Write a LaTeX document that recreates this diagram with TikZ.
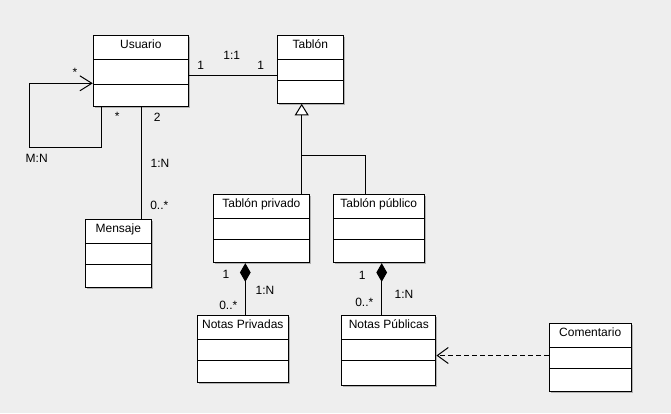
\documentclass[tikz,border=0pt]{standalone}
\usepackage{fontspec}
\setmainfont{Liberation Sans}
\usetikzlibrary{arrows.meta,shadows}
\definecolor{canvas}{RGB}{238,238,238}
\begin{document}
\begin{tikzpicture}[x=1pt, y=-1pt,
    cls/.style={draw, fill=white, line width=1pt, inner sep=0pt,
        drop shadow={shadow xshift=1.5pt, shadow yshift=-1.5pt, fill=black!30, opacity=1},
        path picture={
            \draw[line width=1pt] ([yshift=-24pt]path picture bounding box.north west) -- ([yshift=-24pt]path picture bounding box.north east);
            \draw[line width=1pt] ([yshift=-#1pt]path picture bounding box.north west) -- ([yshift=-#1pt]path picture bounding box.north east);}},
    cls/.default=45,
    title/.style={font=\fontsize{12}{14}\selectfont, anchor=base, inner sep=0pt},
    mult/.style={font=\fontsize{12}{14}\selectfont, anchor=base, inner sep=0pt},
    assoc/.style={line width=1pt},
    navigable/.style={line width=1pt, -{Straight Barb[length=12pt, width=15pt]}},
    generalize/.style={line width=1pt, -{Triangle[length=11.6pt, width=14pt, fill=white]}},
    compose/.style={line width=1pt, {Diamond[length=18.7pt, width=10.7pt]}-},
    depend/.style={line width=1pt, dash pattern=on 5pt off 3pt, -{Straight Barb[length=11pt, width=16pt]}}
]
    \fill[canvas] (0,0) rectangle (671,413);
    \useasboundingbox (0,0) rectangle (671,413);

    \node[cls=49, minimum width=95pt, minimum height=71pt] (usuario) at (140.8,70.5) {};
    \node[title] (usuario-t) at ([yshift=-14pt]usuario.north) {Usuario};
    \node[cls, minimum width=66pt, minimum height=67.8pt] (tablon) at (310.3,69.4) {};
    \node[title] (tablon-t) at ([yshift=-13.5pt]tablon.north) {Tablón};
    \node[cls, minimum width=66pt, minimum height=68pt] (mensaje) at (118.3,253.3) {};
    \node[title] (mensaje-t) at ([yshift=-13.5pt]mensaje.north) {Mensaje};
    \node[cls, minimum width=96.2pt, minimum height=67.7pt] (privado) at (261.4,228.8) {};
    \node[title] (privado-t) at ([yshift=-13.5pt]privado.north) {Tablón privado};
    \node[cls, minimum width=91pt, minimum height=67.7pt] (publico) at (378.8,228.8) {};
    \node[title] (publico-t) at ([yshift=-13.5pt]publico.north) {Tablón público};
    \node[cls, minimum width=91pt, minimum height=67pt] (notaspriv) at (242.8,348.8) {};
    \node[title] (notaspriv-t) at ([yshift=-13.5pt]notaspriv.north) {Notas Privadas};
    \node[cls, minimum width=94.3pt, minimum height=70.3pt] (notaspub) at (388.8,350.8) {};
    \node[title] (notaspub-t) at ([yshift=-13.5pt]notaspub.north) {Notas Públicas};
    \node[cls, minimum width=81.7pt, minimum height=67.7pt] (comentario) at (590.2,357.2) {};
    \node[title] (comentario-t) at ([yshift=-14pt]comentario.north) {Comentario};

    \coordinate (assocY) at (0,75.3);
    \coordinate (loopX) at (101.7,0);
    \coordinate (loopSW) at (29.3,147.3);
    \coordinate (loopNW) at (29.3,83.3);
    \coordinate (msgX) at (141.7,0);
    \coordinate (genJ) at (301.7,155.7);
    \coordinate (pubX) at (365.5,0);
    \coordinate (privD) at (245.3,0);
    \coordinate (pubD) at (381.7,0);
    \coordinate (depY) at (0,355.5);

    \draw[assoc] (usuario.east |- assocY) -- (tablon.west |- assocY);
    \draw[navigable] (usuario.south -| loopX) |- (loopSW) -- (loopNW) -- (loopNW -| usuario.west);
    \draw[assoc] (usuario.south -| msgX) -- (mensaje.north -| msgX);
    \draw[generalize] (privado.north -| genJ) -- (tablon.south -| genJ);
    \draw[assoc] (publico.north -| pubX) |- (genJ);
    \draw[compose] (privado.south -| privD) -- (notaspriv.north -| privD);
    \draw[compose] (publico.south -| pubD) -- (notaspub.north -| pubD);
    \draw[depend] (comentario.west |- depY) -- (notaspub.east |- depY);

    \node[mult] (m-ut) at (200.7,69.3) {1};
    \node[mult] (m-tab) at (231.7,59.3) {1:1};
    \node[mult] (m-tu) at (260.7,69.3) {1};
    \node[mult] (m-loopa) at (75,76.5) {*};
    \node[mult] (m-loopb) at (117.3,120) {*};
    \node[mult] (m-loop) at (36.7,162) {M:N};
    \node[mult] (m-um) at (157.3,121) {2};
    \node[mult] (m-msg) at (160,167) {1:N};
    \node[mult] (m-mu) at (159.3,209) {0..*};
    \node[mult] (m-pr) at (226,278.3) {1};
    \node[mult] (m-prn) at (265,294.3) {1:N};
    \node[mult] (m-np) at (228.3,309.3) {0..*};
    \node[mult] (m-pu) at (362.3,279.3) {1};
    \node[mult] (m-pun) at (404,298.6) {1:N};
    \node[mult] (m-nu) at (364.3,306.7) {0..*};
\end{tikzpicture}
\end{document}
